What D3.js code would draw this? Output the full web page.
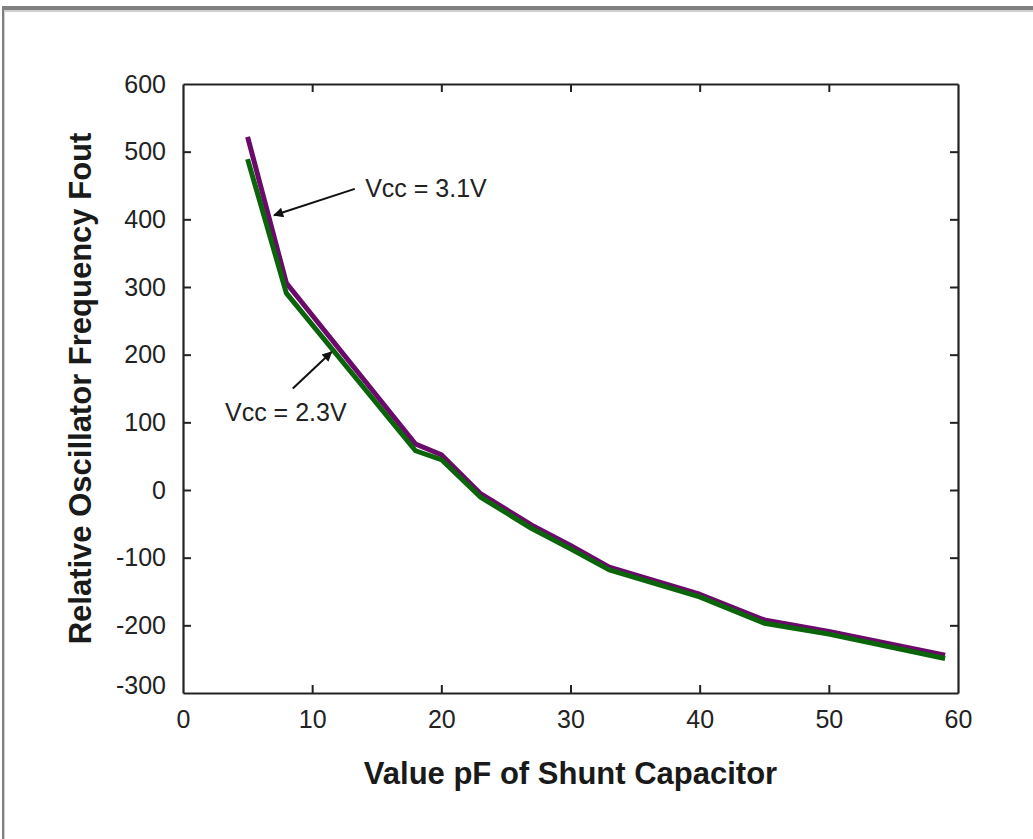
<!DOCTYPE html>
<html>
<head>
<meta charset="utf-8">
<script src="https://cdn.jsdelivr.net/npm/d3@7"></script>
<style>
  html, body { margin: 0; padding: 0; background: #fff; }
  svg { display: block; }
  text { font-family: Arial, "Liberation Sans", Helvetica, sans-serif; }
</style>
</head>
<body>
<div id="chart"></div>
<script>
// data
const capacitance = [5, 8, 18, 20, 23, 27, 30, 33, 40, 45, 50, 59];
const freq31 = [522, 306, 68, 52, -5, -52, -82, -114, -154, -192, -209, -244];
const freq23 = [489, 291, 58, 45, -10, -57, -87, -118, -158, -197, -213, -249];
const xTicks = [0, 10, 20, 30, 40, 50, 60];
const yTicks = [600, 500, 400, 300, 200, 100, 0, -100, -200, -300];

// callouts: text anchor and arrow (tail -> tip), in data units
const notes = [
  { label: 'Vcc = 3.1V', tx: 14.1, ty: 446, x1: 13.3, y1: 445, x2: 7.05, y2: 406 },
  { label: 'Vcc = 2.3V', tx: 3.25, ty: 116, x1: 8.5, y1: 150, x2: 11.5, y2: 204 }
];

let width = 1033, height = 839;
let margin = { left: 183, right: 75, top: 84, bottom: 146 };

let svg = d3.select('#chart')
  .append('svg')
  .attr('width', width)
  .attr('height', height);

// grey frame of the picture (top + left)
svg.append('rect').attr('x', 2).attr('y', 6).attr('width', width - 2).attr('height', 4).attr('fill', '#808080');
svg.append('rect').attr('x', 4).attr('y', 10).attr('width', width - 4).attr('height', 2).attr('fill', '#cfcfcf');
svg.append('rect').attr('x', 2).attr('y', 6).attr('width', 2).attr('height', height - 6).attr('fill', '#808080');
svg.append('rect').attr('x', 4).attr('y', 10).attr('width', 1).attr('height', height - 10).attr('fill', '#cfcfcf');

let x = d3.scaleLinear().domain([0, 60]).range([margin.left, width - margin.right]);
let y = d3.scaleLinear().domain([-300, 600]).range([height - margin.bottom, margin.top]);

let defs = svg.append('defs');
defs.append('marker')
  .attr('id', 'arrow')
  .attr('viewBox', '0 0 10 10')
  .attr('refX', 9).attr('refY', 5)
  .attr('markerWidth', 6).attr('markerHeight', 5)
  .attr('markerUnits', 'strokeWidth')
  .attr('orient', 'auto')
  .append('path')
  .attr('d', 'M0,0 L10,5 L0,10 z')
  .attr('fill', '#111');

// plain hyphen for negatives, like the original
let fmt = d => String(d);

// axes on all 4 sides, ticks inside
let axisColor = '#222';
let bottomAxis = svg.append('g')
  .attr('transform', `translate(0,${y(-300)})`)
  .call(d3.axisBottom(x).tickValues(xTicks).tickFormat(fmt).tickSizeInner(-8).tickSizeOuter(0).tickPadding(17));
let topAxis = svg.append('g')
  .attr('transform', `translate(0,${y(600)})`)
  .call(d3.axisTop(x).tickValues(xTicks).tickSizeInner(-8).tickSizeOuter(0).tickFormat(''));
let leftAxis = svg.append('g')
  .attr('transform', `translate(${x(0)},0)`)
  .call(d3.axisLeft(y).tickValues(yTicks).tickFormat(fmt).tickSizeInner(-8).tickSizeOuter(0).tickPadding(17));
let rightAxis = svg.append('g')
  .attr('transform', `translate(${x(60)},0)`)
  .call(d3.axisRight(y).tickValues(yTicks).tickSizeInner(-8).tickSizeOuter(0).tickFormat(''));

[bottomAxis, topAxis, leftAxis, rightAxis].forEach(g => {
  g.select('.domain').attr('stroke', axisColor).attr('stroke-width', 2.2);
  g.selectAll('.tick line').attr('stroke', axisColor).attr('stroke-width', 2);
  g.selectAll('.tick text')
    .attr('fill', '#222')
    .attr('font-size', 25)
    .attr('font-family', 'Arial, "Liberation Sans", sans-serif');
});
// the -300 label sits a little higher than its tick
leftAxis.selectAll('.tick').filter(d => d === -300).select('text').attr('dy', '0.0em');
// hide edge ticks that coincide with the frame
[bottomAxis, topAxis].forEach(g => g.selectAll('.tick').filter(d => d === 0 || d === 60).select('line').remove());
[leftAxis, rightAxis].forEach(g => g.selectAll('.tick').filter(d => d === 600 || d === -300).select('line').remove());

// lines
let line = d3.line()
  .x((d, i) => x(capacitance[i]))
  .y(d => y(d));

svg.append('path')
  .datum(freq31)
  .attr('fill', 'none')
  .attr('stroke', '#6b0a6b')
  .attr('stroke-width', 5)
  .attr('stroke-linejoin', 'round')
  .attr('d', line);

svg.append('path')
  .datum(freq23)
  .attr('fill', 'none')
  .attr('stroke', '#0a640a')
  .attr('stroke-width', 5)
  .attr('stroke-linejoin', 'round')
  .attr('d', line);

// callouts
notes.forEach(n => {
  svg.append('line')
    .attr('x1', x(n.x1)).attr('y1', y(n.y1))
    .attr('x2', x(n.x2)).attr('y2', y(n.y2))
    .attr('stroke', '#111')
    .attr('stroke-width', 2)
    .attr('marker-end', 'url(#arrow)');
  svg.append('text')
    .attr('x', x(n.tx))
    .attr('y', y(n.ty))
    .attr('dy', '0.36em')
    .attr('font-size', 25)
    .attr('fill', '#222')
    .text(n.label);
});

// axis titles
svg.append('text')
  .attr('x', (x(0) + x(60)) / 2)
  .attr('y', 784)
  .attr('text-anchor', 'middle')
  .attr('font-size', 31)
  .attr('font-weight', 'bold')
  .attr('fill', '#1a1a1a')
  .text('Value pF of Shunt Capacitor');

svg.append('text')
  .attr('transform', `translate(91,${(y(600) + y(-300)) / 2}) rotate(-90)`)
  .attr('text-anchor', 'middle')
  .attr('font-size', 31)
  .attr('font-weight', 'bold')
  .attr('fill', '#1a1a1a')
  .text('Relative Oscillator Frequency Fout');
</script>
</body>
</html>
